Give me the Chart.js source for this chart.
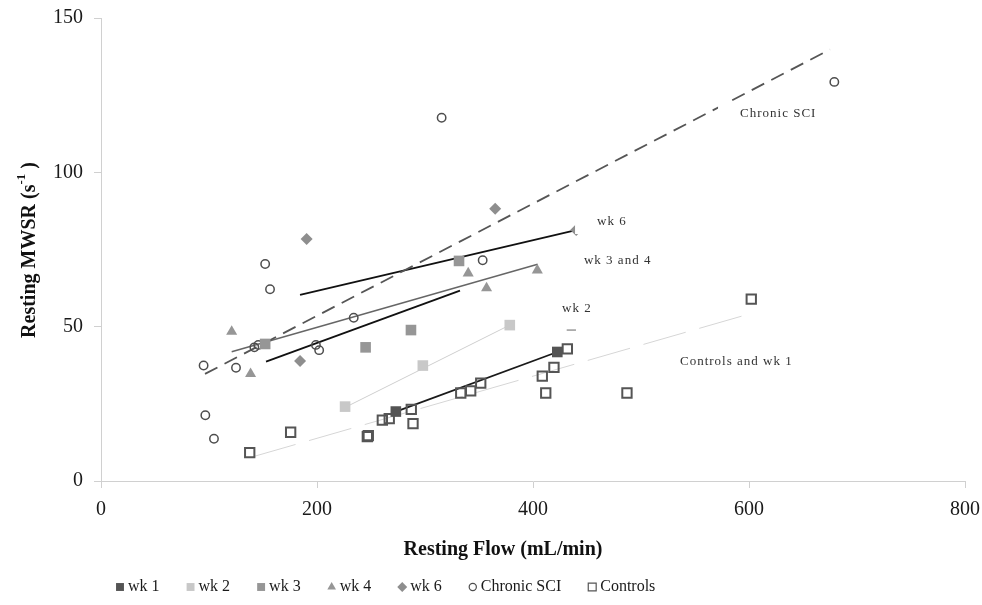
<!DOCTYPE html>
<html>
<head>
<meta charset="utf-8">
<script src="https://cdn.jsdelivr.net/npm/chart.js@4.4.0/dist/chart.umd.min.js"></script>
<style>
  html, body { margin: 0; padding: 0; background: #fff; }
  #wrap { width: 982px; height: 605px; }
</style>
</head>
<body>
<div id="wrap"><canvas id="chart"></canvas></div>
<script>
// scatter groups (Resting Flow mL/min, Resting MWSR s^-1)
const wk1X = [273, 422.5];
const wk1Y = [22.5, 41.8];
const wk2X = [226, 298, 378.5];
const wk2Y = [24.1, 37.4, 50.5];
const wk3X = [152, 245, 287, 331.5];
const wk3Y = [44.4, 43.3, 48.9, 71.3];
const wk4X = [121, 138.5, 340, 357, 404];
const wk4Y = [48.4, 34.7, 67.3, 62.5, 68.3];
const wk6X = [184.3, 190.4, 365, 440];
const wk6Y = [38.9, 78.4, 88.2, 81.3];
const sciX = [95, 96.6, 104.6, 125, 142, 145.6, 152, 156.5, 199, 202, 234, 315.4, 353.4, 679];
const sciY = [37.4, 21.3, 13.7, 36.7, 43.3, 44.1, 70.3, 62.1, 44.1, 42.4, 52.9, 117.7, 71.5, 129.3];
const ctrlX = [137.7, 175.6, 246.6, 247.5, 260.5, 266.9, 287.3, 288.9, 333.1, 342.3, 351.6, 408.6, 411.8, 419.4, 431.8, 487, 602.1];
const ctrlY = [9.2, 15.8, 14.4, 14.7, 19.7, 20.2, 23.2, 18.6, 28.5, 29.2, 31.7, 34.0, 28.5, 36.8, 42.8, 28.5, 58.9];

// fitted lines (end points)
const sciFitX = [96.3, 675], sciFitY = [34.7, 139.8];
const wk6FitX = [184.3, 439.8], wk6FitY = [60.3, 81.3];
const wk34FitX = [121, 404.3], wk34FitY = [41.9, 70.2];
const wk3FitX = [152.8, 332.4], wk3FitY = [38.7, 61.7];
const wk2FitX = [227.5, 378.4], wk2FitY = [24.1, 50.5];
const wk1FitX = [273.1, 422.5], wk1FitY = [22.5, 41.8];
const ctrlFitX = [141, 602.1], ctrlFitY = [7.9, 54.3];
const stubX = [431.2, 439.8], stubY = [48.9, 48.9];

// line labels
const noteText = ["Chronic SCI", "wk 6", "wk 3 and 4", "wk 2", "Controls and wk 1"];
const noteX = [591.7, 459.3, 447.2, 426.9, 536.1];
const noteY = [118.9, 83.9, 71.3, 55.7, 38.6];

const xTicks = [0, 200, 400, 600, 800];
const yTicks = [0, 50, 100, 150];

const pts = (xs, ys) => xs.map((x, i) => ({ x: x, y: ys[i] }));
const SERIF = '"Liberation Serif", "Times New Roman", serif';

const groups = [
  { label: "wk 1", data: pts(wk1X, wk1Y), pointStyle: "rect", pointRadius: 7.5, backgroundColor: "#545454", borderColor: "#545454", pointBorderWidth: 0 },
  { label: "wk 2", data: pts(wk2X, wk2Y), pointStyle: "rect", pointRadius: 7.5, backgroundColor: "#c8c8c8", borderColor: "#c8c8c8", pointBorderWidth: 0 },
  { label: "wk 3", data: pts(wk3X, wk3Y), pointStyle: "rect", pointRadius: 7.5, backgroundColor: "#969696", borderColor: "#969696", pointBorderWidth: 0 },
  { label: "wk 4", data: pts(wk4X, wk4Y), pointStyle: "triangle", pointRadius: 6.4, backgroundColor: "#969696", borderColor: "#969696", pointBorderWidth: 0 },
  { label: "wk 6", data: pts(wk6X, wk6Y), pointStyle: "rectRot", pointRadius: 6, backgroundColor: "#8e8e8e", borderColor: "#8e8e8e", pointBorderWidth: 0 },
  { label: "Chronic SCI", data: pts(sciX, sciY), pointStyle: "circle", pointRadius: 4.2, backgroundColor: "rgba(255,255,255,0)", borderColor: "#4d4d4d", pointBorderWidth: 1.5 },
  { label: "Controls", data: pts(ctrlX, ctrlY), pointStyle: "rect", pointRadius: 6.6, backgroundColor: "rgba(255,255,255,0)", borderColor: "#555", pointBorderWidth: 2 }
];

const fit = (xs, ys, color, width, dash) => ({
  label: "_fit", data: pts(xs, ys), showLine: true, pointRadius: 0,
  borderColor: color, borderWidth: width, borderDash: dash || [], fill: false
});

const fits = [
  fit(sciFitX, sciFitY, "#555", 1.8, [14, 8]),
  fit(wk6FitX, wk6FitY, "#111", 1.8),
  fit(wk34FitX, wk34FitY, "#666", 1.5),
  fit(wk3FitX, wk3FitY, "#111", 1.8),
  fit(wk2FitX, wk2FitY, "#cfcfcf", 1),
  fit(wk1FitX, wk1FitY, "#1a1a1a", 1.8),
  fit(ctrlFitX, ctrlFitY, "#d6d6d6", 1, [44, 14]),
  fit(stubX, stubY, "#666", 1)
];

function marker(ctx, style, x, y, r, fill, stroke, lw) {
  ctx.beginPath();
  if (style === "rect") {
    const s = r / Math.SQRT2;
    ctx.rect(x - s, y - s, 2 * s, 2 * s);
  } else if (style === "triangle") {
    ctx.moveTo(x, y - r);
    ctx.lineTo(x + r * Math.sin(2 * Math.PI / 3), y - r * Math.cos(2 * Math.PI / 3));
    ctx.lineTo(x + r * Math.sin(4 * Math.PI / 3), y - r * Math.cos(4 * Math.PI / 3));
    ctx.closePath();
  } else if (style === "rectRot") {
    ctx.moveTo(x, y - r); ctx.lineTo(x + r, y); ctx.lineTo(x, y + r); ctx.lineTo(x - r, y);
    ctx.closePath();
  } else {
    ctx.arc(x, y, r, 0, Math.PI * 2);
  }
  ctx.fillStyle = fill;
  ctx.fill();
  if (lw > 0) { ctx.lineWidth = lw; ctx.strokeStyle = stroke; ctx.stroke(); }
}

// no extra room for half labels: the reference plot box is fixed
const noPad = s => {
  s.paddingTop = 0; s.paddingBottom = 0; s.paddingLeft = 0; s.paddingRight = 0;
};

const extras = {
  id: "extras",
  afterDatasetsDraw(chart) {
    const ctx = chart.ctx, xs = chart.scales.x, ys = chart.scales.y;
    ctx.save();
    ctx.font = "13px " + SERIF;
    if ("letterSpacing" in ctx) ctx.letterSpacing = "1px";
    ctx.textBaseline = "middle";
    ctx.textAlign = "left";
    noteText.forEach((t, i) => {
      const px = xs.getPixelForValue(noteX[i]);
      const py = ys.getPixelForValue(noteY[i]);
      const w = ctx.measureText(t).width;
      ctx.fillStyle = "#fff";
      ctx.fillRect(px - 22, py - 13, w + 30, 25);
      ctx.fillStyle = "#333";
      ctx.fillText(t, px, py);
    });
    ctx.restore();
  },
  afterDraw(chart) {
    const ctx = chart.ctx;
    ctx.save();
    // y title with superscript
    ctx.translate(30, 250);
    ctx.rotate(-Math.PI / 2);
    const main = "Resting MWSR (s", sup = "-1", tail = " )";
    const bf = "bold 20px " + SERIF, sf = "bold 13px " + SERIF;
    ctx.font = bf; const w1 = ctx.measureText(main).width, w3 = ctx.measureText(tail).width;
    ctx.font = sf; const w2 = ctx.measureText(sup).width;
    let cx = -(w1 + w2 + w3) / 2;
    ctx.fillStyle = "#111";
    ctx.textBaseline = "middle";
    ctx.textAlign = "left";
    ctx.font = bf; ctx.fillText(main, cx, 0); cx += w1;
    ctx.font = sf; ctx.fillText(sup, cx, -8); cx += w2;
    ctx.font = bf; ctx.fillText(tail, cx, 0);
    ctx.restore();

    ctx.save();
    ctx.fillStyle = "#111";
    ctx.font = "bold 20px " + SERIF;
    ctx.textAlign = "center";
    ctx.textBaseline = "middle";
    ctx.fillText("Resting Flow (mL/min)", 503, 550);

    // legend
    ctx.font = "16px " + SERIF;
    ctx.textAlign = "left";
    let lx = 120;
    const ly = 587;
    groups.forEach(g => {
      const r = g.pointStyle === "rect" ? 5.6 : g.pointStyle === "circle" ? 3.6 : 5;
      const lw = g.pointBorderWidth ? 1.2 : 0;
      marker(ctx, g.pointStyle, lx, ly, r, g.backgroundColor, g.borderColor, lw);
      ctx.fillStyle = "#1a1a1a";
      const tx = lx + 8;
      ctx.fillText(g.label, tx, ly);
      lx = tx + ctx.measureText(g.label).width + 31;
    });
    ctx.restore();
  }
};

new Chart(document.getElementById("chart"), {
  type: "scatter",
  data: { datasets: groups.concat(fits) },
  options: {
    responsive: true,
    maintainAspectRatio: false,
    animation: false,
    layout: { padding: { top: 18, right: 17, left: 0, bottom: 0 } },
    plugins: { legend: { display: false }, tooltip: { enabled: false } },
    scales: {
      x: {
        type: "linear", min: 0, max: 800,
        afterBuildTicks: s => { s.ticks = xTicks.map(v => ({ value: v })); },
        afterFit: s => { s.height = 124; noPad(s); },
        ticks: { color: "#1a1a1a", font: { family: SERIF, size: 20 }, padding: 10, maxRotation: 0 },
        grid: { drawOnChartArea: false, drawTicks: true, tickLength: 7, color: "#d0d0d0" },
        border: { color: "#d0d0d0" }
      },
      y: {
        type: "linear", min: 0, max: 150,
        afterBuildTicks: s => { s.ticks = yTicks.map(v => ({ value: v })); },
        afterFit: s => { s.width = 101; noPad(s); },
        ticks: { color: "#1a1a1a", font: { family: SERIF, size: 20 }, padding: 11 },
        grid: { drawOnChartArea: false, drawTicks: true, tickLength: 7, color: "#d0d0d0" },
        border: { color: "#d0d0d0" }
      }
    }
  },
  plugins: [extras]
});
</script>
</body>
</html>
